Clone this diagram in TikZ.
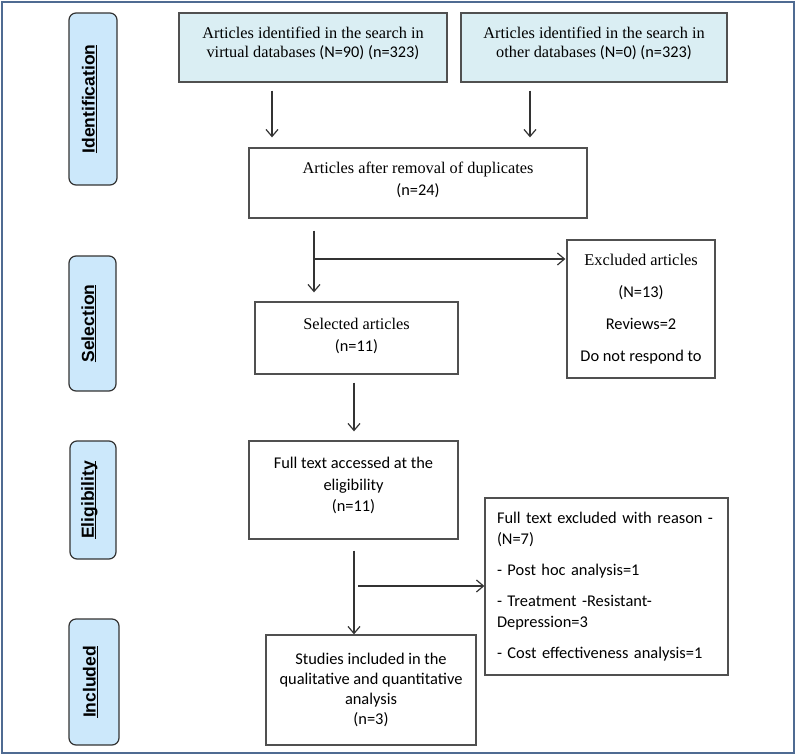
\documentclass[tikz,border=0pt]{standalone}
\usepackage{fontspec}
\setmainfont{Carlito}
\newfontfamily\tmf{Liberation Serif}
\newfontfamily\arf{Liberation Sans}
\usetikzlibrary{arrows.meta}
\definecolor{frameblue}{HTML}{4F6B92}
\definecolor{sidefill}{HTML}{CCE8FB}
\definecolor{topfill}{HTML}{DAEEF3}
\definecolor{boxline}{HTML}{505050}
\definecolor{arrline}{HTML}{333333}
\tikzset{
  sidebox/.style={draw=black!80, line width=1.2pt, fill=sidefill, rounded corners=7pt, inner sep=0pt},
  flowbox/.style={draw=boxline, line width=1.3pt, align=center, inner sep=4pt,
     font=\fontsize{16.4}{20}\selectfont},
  topbox/.style={flowbox, fill=topfill, font=\fontsize{16.3}{19}\selectfont},
  arr/.style={draw=arrline, line width=1.2pt, -{Straight Barb[length=7pt,width=12pt,line width=1.2pt]}},
  plain/.style={draw=arrline, line width=1.2pt}
}
\newsavebox{\ulbox}
\newcommand{\myul}[1]{\sbox{\ulbox}{#1}\rlap{\rule[-2.2pt]{\wd\ulbox}{1.1pt}}\usebox{\ulbox}}
\newcommand{\sidelabel}[1]{\rotatebox{90}{\fontsize{17.5}{20}\selectfont\arf\bfseries\myul{#1}}\kern7pt}
\begin{document}
\begin{tikzpicture}[x=1pt,y=-1pt]
\useasboundingbox (0,0) rectangle (797,755);
\draw[frameblue, line width=1.3pt] (2,2) rectangle (794,753);

% side labels
\node[sidebox, minimum width=48pt, minimum height=172pt] (sid) at (93,99) {\sidelabel{Identification}};
\node[sidebox, minimum width=47pt, minimum height=135pt] (ssel) at (92.5,323.5) {\sidelabel{Selection}};
\node[sidebox, minimum width=46pt, minimum height=118pt] (selig) at (93,500) {\sidelabel{Eligibility}};
\node[sidebox, minimum width=50pt, minimum height=126pt] (sinc) at (94,682) {\sidelabel{Included}};

% boxes
\node[topbox, minimum width=268pt, minimum height=69pt, text depth=11pt] (tl) at (313,47.5)
  {{\tmf Articles identified in the search in}\\{\tmf virtual databases} (N=90) (n=323)};
\node[topbox, minimum width=266pt, minimum height=69pt, text depth=11pt] (tr) at (594,47.5)
  {{\tmf Articles identified in the search in}\\{\tmf other databases} (N=0) (n=323)};
\node[flowbox, minimum width=338pt, minimum height=70pt, text depth=8pt, font=\fontsize{16.3}{22}\selectfont] (dup) at (418,183)
  {{\tmf Articles after removal of duplicates}\\(n=24)};
\node[flowbox, minimum width=148pt, minimum height=138pt, font=\fontsize{16.4}{20}\selectfont] (exc) at (641,309)
  {{\tmf Excluded articles}\\[12pt](N=13)\\[12pt]Reviews=2\\[12pt]Do not respond to};
\node[flowbox, minimum width=203pt, minimum height=72pt, text depth=7pt, font=\fontsize{16.3}{22}\selectfont] (sel) at (356.5,338)
  {{\tmf Selected articles}\\(n=11)};
\node[flowbox, minimum width=209pt, minimum height=98pt, text depth=11pt, font=\fontsize{16.4}{21.5}\selectfont] (fa) at (353.5,490)
  {Full text accessed at the\\eligibility\\(n=11)};
\node[flowbox, minimum height=177pt, text width=219pt, inner xsep=12pt, align=left, font=\fontsize{16.4}{21}\selectfont] (fe) at (606.5,586.5)
  {Full text excluded with reason -\\(N=7)\\[10pt]- Post hoc analysis=1\\[10pt]- Treatment -Resistant-\\Depression=3\\[10pt]- Cost effectiveness analysis=1};
\node[flowbox, minimum width=210pt, minimum height=110pt, font=\fontsize{16.4}{20}\selectfont] (st) at (371,690)
  {Studies included in the\\qualitative and quantitative\\analysis\\(n=3)};

% connectors
\coordinate (xa) at (272,0);
\coordinate (xb) at (530,0);
\coordinate (xc) at (314,0);
\coordinate (xd) at (354,0);
\coordinate (yb) at (0,259);
\coordinate (yc) at (0,586);

\draw[arr, shorten <=8pt, shorten >=10pt] (xa |- tl.south) -- (xa |- dup.north);
\draw[arr, shorten <=8pt, shorten >=10pt] (xb |- tr.south) -- (xb |- dup.north);

\draw[arr, shorten <=12pt, shorten >=9pt] (xc |- dup.south) -- (xc |- sel.north);
\draw[arr, shorten >=1pt] (xc |- yb) -- (exc.west |- yb);

\draw[arr, shorten <=8pt, shorten >=9pt] (xd |- sel.south) -- (xd |- fa.north);

\draw[arr, shorten <=11pt] (xd |- fa.south) -- (xd |- st.north);
\draw[arr, shorten <=4pt] (xd |- yc) -- (fe.west |- yc);
\end{tikzpicture}
\end{document}
